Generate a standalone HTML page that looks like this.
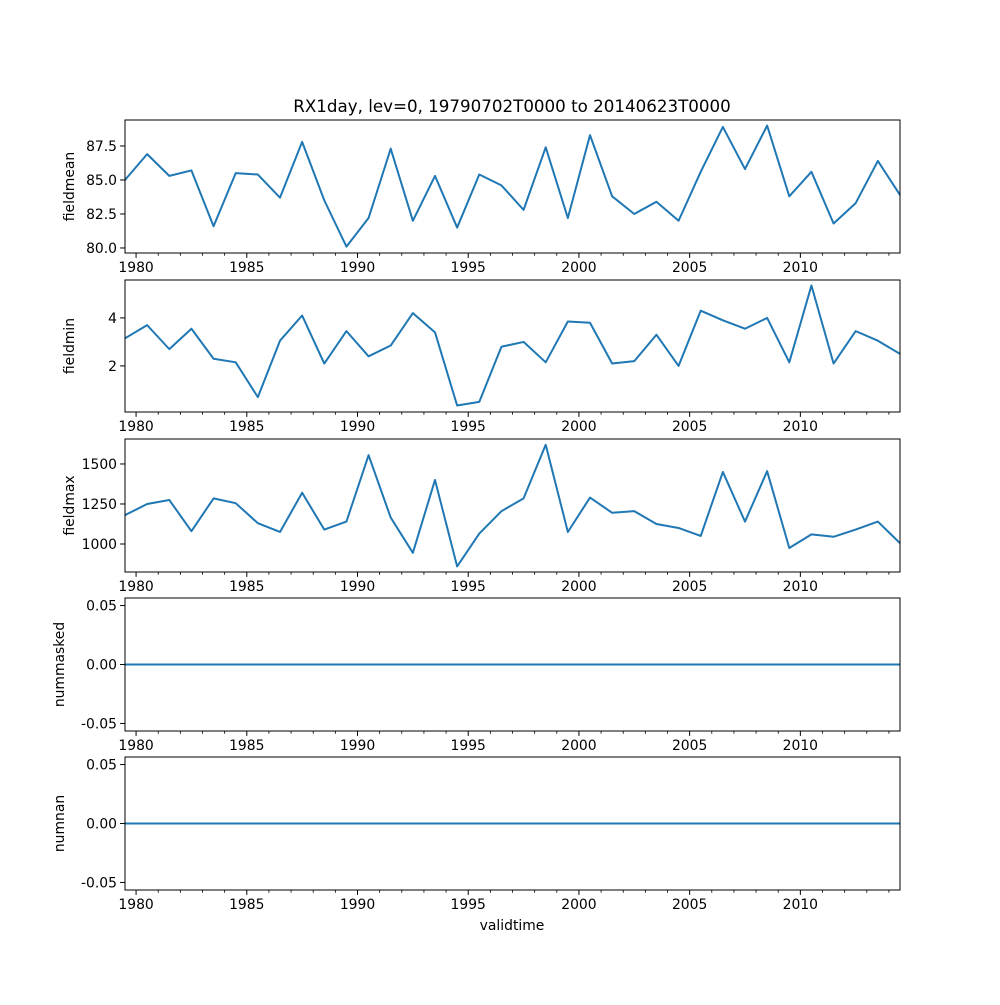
<!DOCTYPE html>
<html><head><meta charset="utf-8"><style>
body{margin:0;background:#fff}
svg text{font-family:"DejaVu Sans","Liberation Sans",sans-serif;fill:#000}
</style></head><body>
<svg id="chart" width="1000" height="1000" viewBox="0 0 1000 1000" xmlns="http://www.w3.org/2000/svg">
<rect width="1000" height="1000" fill="#fff"/>
<text x="512" y="112" font-size="16.7" text-anchor="middle">RX1day, lev=0, 19790702T0000 to 20140623T0000</text>
<text x="512" y="930" font-size="13.9" text-anchor="middle">validtime</text>
</svg>
<script>
const years = [1979,1980,1981,1982,1983,1984,1985,1986,1987,1988,1989,1990,1991,1992,1993,1994,1995,1996,1997,1998,1999,2000,2001,2002,2003,2004,2005,2006,2007,2008,2009,2010,2011,2012,2013,2014];
const fieldmean = [85.0,86.9,85.3,85.7,81.6,85.5,85.4,83.7,87.8,83.5,80.1,82.2,87.3,82.0,85.3,81.5,85.4,84.6,82.8,87.4,82.2,88.3,83.8,82.5,83.4,82.0,85.6,88.9,85.8,89.0,83.8,85.6,81.8,83.3,86.4,83.9];
const fieldmin = [3.15,3.7,2.7,3.55,2.3,2.15,0.7,3.05,4.1,2.1,3.45,2.4,2.85,4.2,3.4,0.35,0.5,2.8,3.0,2.15,3.85,3.8,2.1,2.2,3.3,2.0,4.3,3.9,3.55,4.0,2.15,5.35,2.1,3.45,3.05,2.5];
const fieldmax = [1180,1250,1275,1080,1285,1255,1130,1075,1320,1090,1140,1555,1165,945,1400,860,1065,1205,1285,1620,1075,1290,1195,1205,1125,1100,1050,1450,1140,1455,975,1060,1045,1090,1140,1005];
const nummasked = years.map(()=>0);
const numnan = years.map(()=>0);
const xTicks = [1980,1985,1990,1995,2000,2005,2010];
const meanTicks = [80.0,82.5,85.0,87.5];
const minTicks = [2,4];
const maxTicks = [1000,1250,1500];
const zeroTicks = [-0.05,0,0.05];

const NS="http://www.w3.org/2000/svg";
const svg=document.getElementById('chart');
const X0=125,X1=900,T0=1979.5,T1=2014.5;
const xs=t=>X0+(t-T0)/(T1-T0)*(X1-X0);
function el(tag,attrs,parent){const e=document.createElementNS(NS,tag);for(const k in attrs)e.setAttribute(k,attrs[k]);(parent||svg).appendChild(e);return e;}
const panels=[
 {name:'fieldmean',data:fieldmean,top:120,bot:253,ymin:79.63,ymax:89.41,ticks:meanTicks,fmt:v=>v.toFixed(1)},
 {name:'fieldmin',data:fieldmin,top:280,bot:412,ymin:0.08,ymax:5.58,ticks:minTicks,fmt:v=>String(v)},
 {name:'fieldmax',data:fieldmax,top:439,bot:572,ymin:825,ymax:1656,ticks:maxTicks,fmt:v=>String(v)},
 {name:'nummasked',data:nummasked,top:598,bot:731,ymin:-0.0564,ymax:0.0564,ticks:zeroTicks,fmt:v=>v.toFixed(2)},
 {name:'numnan',data:numnan,top:757,bot:890,ymin:-0.0564,ymax:0.0564,ticks:zeroTicks,fmt:v=>v.toFixed(2)}
];
panels.forEach(p=>{
 const g=el('g',{});
 
 
 const ys=v=>p.bot-(v-p.ymin)/(p.ymax-p.ymin)*(p.bot-p.top);
 let d='';
 p.data.forEach((v,i)=>{d+=(i?'L':'M')+xs(years[i]+0.5).toFixed(2)+' '+ys(v).toFixed(2);});
 const line=el('path',{d:d,fill:'none',stroke:'#1f77b4','stroke-width':2,'stroke-linejoin':'round'},g);
 
 
 const frame=el('rect',{x:X0,y:p.top,width:X1-X0,height:p.bot-p.top,fill:'none',stroke:'#000','stroke-width':1},g);
 
 
 for(let yr=1980;yr<=2014;yr++){
  const x=xs(yr);const major=xTicks.includes(yr);
  el('line',{x1:x,x2:x,y1:p.bot,y2:p.bot+(major?4.9:2.8),stroke:'#000','stroke-width':major?1:0.8},g);
 }
 xTicks.forEach(t=>{
  const tx=el('text',{x:xs(t),y:p.bot+19,'font-size':13.9,'text-anchor':'middle'},g);
  tx.textContent=t;
  
  
 });
 p.ticks.forEach(t=>{
  const y=ys(t);
  el('line',{x1:X0-4.9,x2:X0,y1:y,y2:y,stroke:'#000','stroke-width':1},g);
  const tx=el('text',{x:X0-8,y:y+5,'font-size':13.9,'text-anchor':'end'},g);
  tx.textContent=p.fmt(t);
  
  
 });
 const cy=(p.top+p.bot)/2;
 const lab=el('text',{x:0,y:0,'font-size':13.9,'text-anchor':'middle',transform:`translate(${p.name.startsWith('num')?64:74},${cy}) rotate(-90)`},g);
 lab.textContent=p.name;
 
 
});
</script>
</body></html>
